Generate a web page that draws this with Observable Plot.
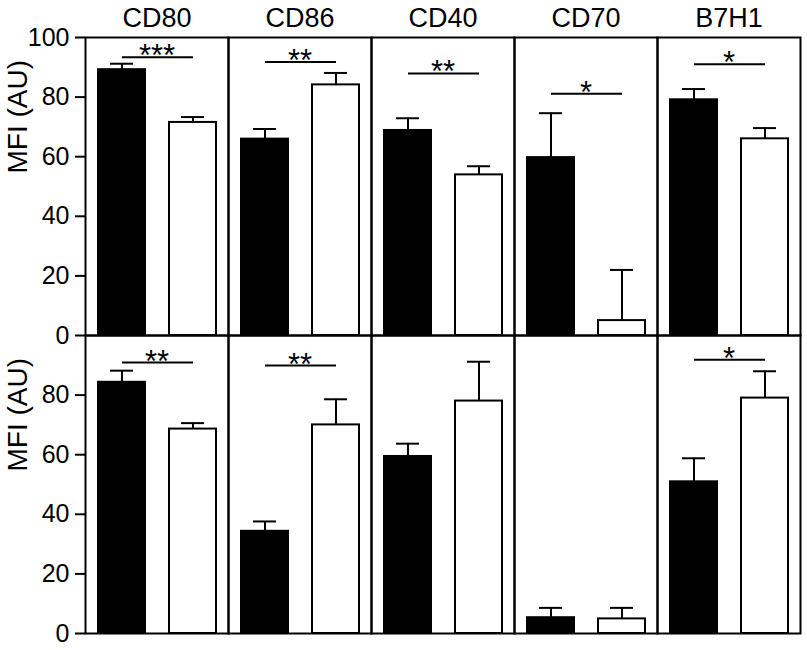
<!DOCTYPE html>
<html>
<head>
<meta charset="utf-8">
<script src="https://cdn.jsdelivr.net/npm/d3@7"></script>
<script src="https://cdn.jsdelivr.net/npm/@observablehq/plot@0.6"></script>
<style>
  html, body { margin: 0; padding: 0; background: #fff; }
  svg { display: block; }
</style>
</head>
<body>
<div id="chart"></div>
<script>
// ---- data ----
const markers = ["CD80", "CD86", "CD40", "CD70", "B7H1"];
const rows = ["upper", "lower"];
const groups = ["filled", "open"];

// upper row
const upperFilled    = [89.2, 65.9, 68.8, 59.7, 79.1];
const upperFilledErr = [2.0, 3.4, 4.1, 14.9, 3.6];
const upperOpen      = [71.5, 84.1, 53.9, 5.0, 66.0];
const upperOpenErr   = [1.8, 4.0, 2.9, 17.0, 3.6];
// lower row
const lowerFilled    = [84.3, 34.3, 59.4, 5.3, 50.9];
const lowerFilledErr = [3.9, 3.3, 4.3, 3.3, 7.9];
const lowerOpen      = [68.6, 70.0, 78.0, 4.9, 79.0];
const lowerOpenErr   = [2.0, 8.6, 13.2, 3.7, 9.0];

// significance brackets
const upperStars  = ["***", "**", "**", "*", "*"];
const upperStarsY = [93.4, 91.8, 87.9, 81.1, 91.0];
const lowerStars  = ["**", "**", "", "", "*"];
const lowerStarsY = [90.9, 89.9, null, null, 91.9];

// axis ticks
const upperTicks = [0, 20, 40, 60, 80, 100];
const lowerTicks = [0, 20, 40, 60, 80];
const yLabel = "MFI (AU)";

// ---- build tables ----
const series = {
  upper: {filled: [upperFilled, upperFilledErr], open: [upperOpen, upperOpenErr]},
  lower: {filled: [lowerFilled, lowerFilledErr], open: [lowerOpen, lowerOpenErr]}
};
const table = [];
for (const row of rows) {
  markers.forEach((m, i) => {
    for (const g of groups) {
      const [vals, errs] = series[row][g];
      table.push({row, marker: m, group: g, value: vals[i], top: vals[i] + errs[i]});
    }
  });
}
const sig = [];
markers.forEach((m, i) => {
  if (upperStars[i]) sig.push({row: "upper", marker: m, y: upperStarsY[i], stars: upperStars[i]});
  if (lowerStars[i]) sig.push({row: "lower", marker: m, y: lowerStarsY[i], stars: lowerStars[i]});
});

const chart = Plot.plot({
  width: 807,
  height: 650,
  marginTop: 36,
  marginBottom: 17,
  marginLeft: 84,
  marginRight: 7,
  style: {fontFamily: "'Liberation Sans', Arial, sans-serif", background: "#fff", color: "#000"},
  fx: {domain: markers, padding: 0, label: null},
  fy: {domain: rows, padding: 0, axis: null, label: null},
  x: {domain: groups, paddingInner: 0.34, paddingOuter: 0.17, axis: null},
  y: {domain: [0, 100], label: null},
  color: {domain: groups, range: ["#000", "#fff"]},
  marks: [
    Plot.barY(table, {fx: "marker", fy: "row", x: "group", y: "value", fill: "group", stroke: "#000", strokeWidth: 2}),
    Plot.ruleX(table, {fx: "marker", fy: "row", x: "group", y1: "value", y2: "top", stroke: "#000", strokeWidth: 2}),
    Plot.tickY(table, {fx: "marker", fy: "row", x: "group", y: "top", stroke: "#000", strokeWidth: 2, insetLeft: 12, insetRight: 12}),
    Plot.link(sig, {fx: "marker", fy: "row", x1: () => "filled", x2: () => "open", y1: "y", y2: "y", stroke: "#000", strokeWidth: 2}),
    Plot.text(sig, {fx: "marker", fy: "row", y: "y", text: "stars", fontSize: 31, dy: -1}),
    Plot.axisY({ticks: lowerTicks, tickSize: 10, tickPadding: 6, fontSize: 25, strokeWidth: 2, label: null}),
    Plot.axisY({ticks: upperTicks.filter(t => !lowerTicks.includes(t)), tickSize: 10, tickPadding: 6, fontSize: 25, strokeWidth: 2, label: null, facetAnchor: "top-left"}),
    Plot.axisFx({anchor: "top", tickSize: 0, tickPadding: 11, fontSize: 27, label: null}),
    Plot.text([yLabel], {text: d => d, frameAnchor: "left", rotate: -90, dx: -67, dy: -13, fontSize: 28, facetAnchor: "left"}),
    Plot.frame({stroke: "#000", strokeWidth: 2})
  ]
});
document.getElementById("chart").append(chart);
</script>
</body>
</html>
